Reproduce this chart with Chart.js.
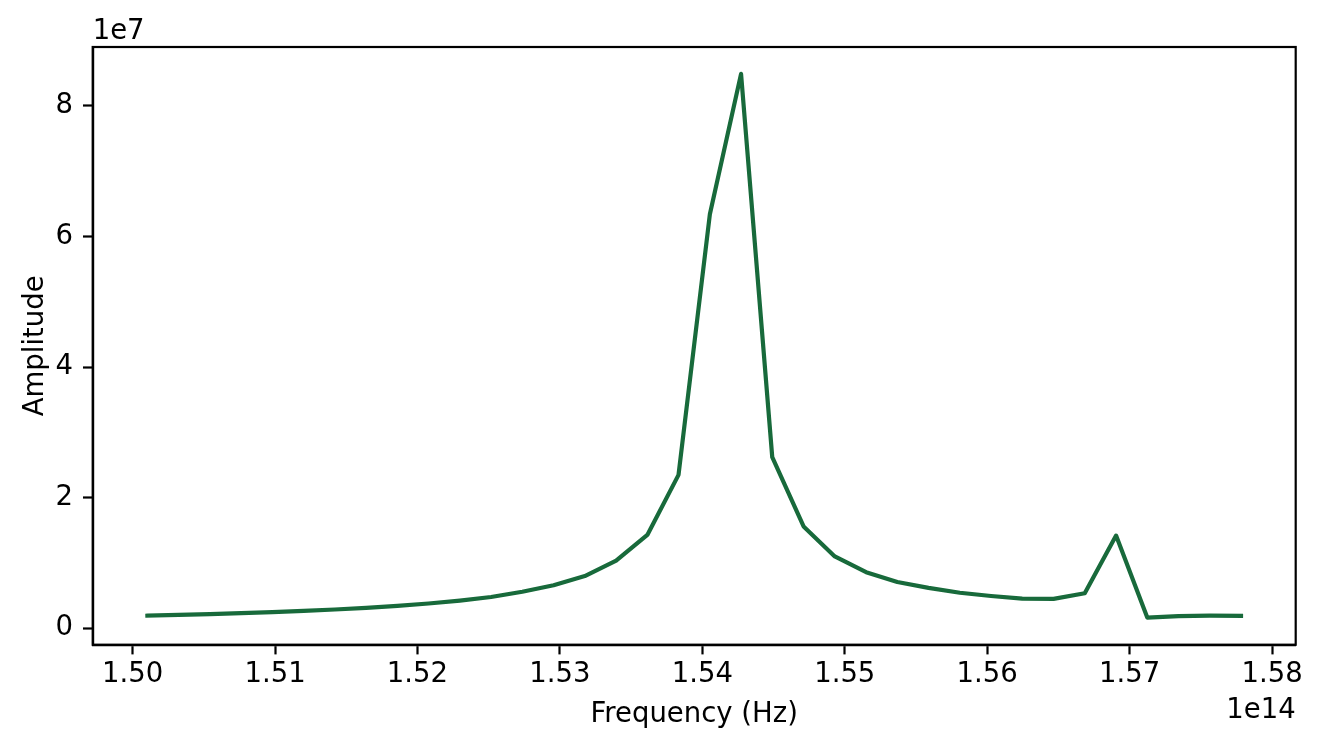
<!DOCTYPE html>
<html>
<head>
<meta charset="utf-8">
<script src="https://cdn.jsdelivr.net/npm/chart.js@4"></script>
<style>
  html, body { margin: 0; padding: 0; background: #ffffff; }
  #wrap { width: 1321px; height: 748px; }
</style>
</head>
<body>
<div id="wrap"><canvas id="c" width="1321" height="748"></canvas></div>
<script>
// Frequencies in units of 1e14 Hz
const freqE14 = [
  1.50104, 1.50323, 1.50543, 1.50762, 1.50981, 1.51201, 1.51420, 1.51640, 1.51859,
  1.52078, 1.52298, 1.52517, 1.52736, 1.52956, 1.53175, 1.53395, 1.53614, 1.53833,
  1.54053, 1.54272, 1.54491, 1.54711, 1.54930, 1.55150, 1.55369, 1.55588, 1.55808,
  1.56027, 1.56246, 1.56466, 1.56685, 1.56905, 1.57124, 1.57343, 1.57563, 1.57782
];
// Amplitudes in units of 1e7
const ampE7 = [
  0.193, 0.205, 0.218, 0.232, 0.248, 0.267, 0.288, 0.313, 0.343,
  0.380, 0.425, 0.480, 0.560, 0.660, 0.800, 1.035, 1.430, 2.350,
  6.340, 8.490, 2.620, 1.560, 1.100, 0.860, 0.710, 0.620, 0.545,
  0.495, 0.455, 0.450, 0.536, 1.420, 0.165, 0.188, 0.193, 0.190
];
const xTickValues = [1.50, 1.51, 1.52, 1.53, 1.54, 1.55, 1.56, 1.57, 1.58];
const yTickValues = [0, 2, 4, 6, 8];
const xOffsetLabel = '1e14';
const yOffsetLabel = '1e7';
const xTitle = 'Frequency (Hz)';
const yTitle = 'Amplitude';

const FONT = "'DejaVu Sans', sans-serif";
const FS = 27.5;

const framePlugin = {
  id: 'frame',
  afterDatasetsDraw(chart) {
    const { ctx, chartArea: a } = chart;
    ctx.save();
    ctx.strokeStyle = '#000';
    ctx.lineWidth = 2.2;
    ctx.strokeRect(a.left, a.top, a.right - a.left, a.bottom - a.top);
    ctx.fillStyle = '#000';
    ctx.font = FS + 'px ' + FONT;
    // offset texts
    ctx.textAlign = 'left';
    ctx.textBaseline = 'alphabetic';
    ctx.fillText(yOffsetLabel, a.left, 38.5);
    ctx.textAlign = 'right';
    ctx.fillText(xOffsetLabel, a.right, 718.3);
    // axis titles
    ctx.textAlign = 'center';
    ctx.fillText(xTitle, (a.left + a.right) / 2, 721.7);
    ctx.translate(42.7, (a.top + a.bottom) / 2);
    ctx.rotate(-Math.PI / 2);
    ctx.fillText(yTitle, 0, 0);
    ctx.restore();
  }
};

new Chart(document.getElementById('c'), {
  type: 'line',
  data: {
    datasets: [{
      data: freqE14.map((f, i) => ({ x: f, y: ampE7[i] })),
      borderColor: '#186a3b',
      borderWidth: 4.2,
      borderJoinStyle: 'round',
      borderCapStyle: 'square',
      pointRadius: 0,
      pointHoverRadius: 0,
      tension: 0,
      fill: false
    }]
  },
  options: {
    responsive: false,
    devicePixelRatio: 1,
    animation: false,
    events: [],
    layout: { padding: { left: 0, right: 25.3, top: 47, bottom: 0 } },
    plugins: { legend: { display: false }, tooltip: { enabled: false } },
    scales: {
      x: {
        type: 'linear',
        min: 1.4972,
        max: 1.58166,
        afterBuildTicks(s) { s.ticks = xTickValues.map(v => ({ value: v })); },
        afterFit(s) { s.height = 103.3; },
        grid: { display: true, drawOnChartArea: false, drawTicks: true, tickLength: 9.7, tickWidth: 2.2, tickColor: '#000' },
        border: { display: true, color: '#000', width: 2.2 },
        ticks: {
          autoSkip: false, maxRotation: 0, minRotation: 0, padding: 4,
          color: '#000', font: { family: FONT, size: FS },
          callback: v => Number(v).toFixed(2)
        }
      },
      y: {
        type: 'linear',
        min: -0.251,
        max: 8.902,
        afterBuildTicks(s) { s.ticks = yTickValues.map(v => ({ value: v })); },
        afterFit(s) { s.width = 92.7; },
        grid: { display: true, drawOnChartArea: false, drawTicks: true, tickLength: 9.7, tickWidth: 2.2, tickColor: '#000' },
        border: { display: true, color: '#000', width: 2.2 },
        ticks: {
          autoSkip: false, padding: 10,
          color: '#000', font: { family: FONT, size: FS },
          callback: v => String(v)
        }
      }
    }
  },
  plugins: [framePlugin]
});
</script>
</body>
</html>
